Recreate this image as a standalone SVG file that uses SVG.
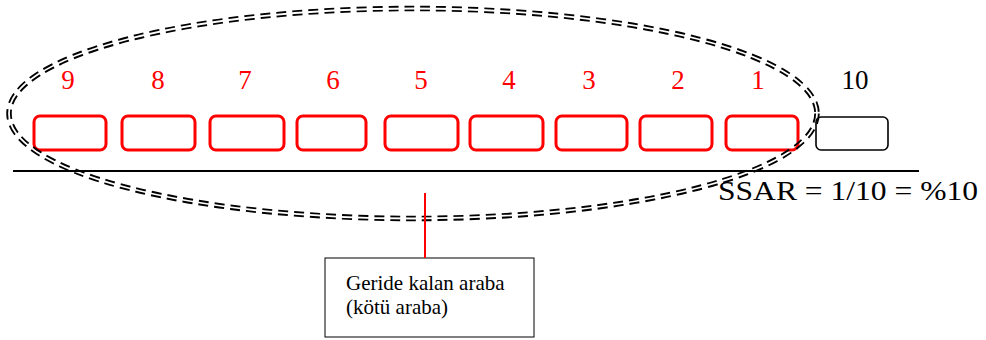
<svg xmlns="http://www.w3.org/2000/svg" width="986" height="340" viewBox="0 0 986 340">
  <style>
    .car { fill: none; stroke: #ff0000; stroke-width: 3; }
    .car-ok { fill: none; stroke: #000000; stroke-width: 1.6; }
    .num { font-family: "Liberation Serif", "Times New Roman", serif; font-size: 27px; text-anchor: middle; fill: #ff0000; }
    .num-ok { fill: #000000; }
    .lbl { font-family: "Liberation Serif", "Times New Roman", serif; font-size: 21px; fill: #000000; }
  </style>
  <defs>
    <!-- hollow centre that turns the thick dashed stroke into a double line -->
    <mask id="double-line" maskUnits="userSpaceOnUse" x="0" y="0" width="986" height="340">
      <rect x="0" y="0" width="986" height="340" fill="#ffffff"/>
      <ellipse cx="413" cy="113.5" rx="404" ry="105" fill="none" stroke="#000000" stroke-width="1.8"/>
    </mask>
  </defs>

  <rect x="0" y="0" width="986" height="340" fill="#ffffff"/>

  <!-- road line -->
  <line x1="13" y1="171" x2="919" y2="171" stroke="#000000" stroke-width="2"/>

  <!-- cars in the queue -->
  <g id="car-9"><rect class="car" x="34" y="116" width="72" height="34" rx="6"/><text class="num" x="68" y="89">9</text></g>
  <g id="car-8"><rect class="car" x="122" y="116" width="73" height="34" rx="6"/><text class="num" x="158" y="89">8</text></g>
  <g id="car-7"><rect class="car" x="210" y="116" width="74" height="34" rx="6"/><text class="num" x="245" y="89">7</text></g>
  <g id="car-6"><rect class="car" x="297" y="116" width="69" height="34" rx="6"/><text class="num" x="333" y="89">6</text></g>
  <g id="car-5"><rect class="car" x="385" y="116" width="73" height="34" rx="6"/><text class="num" x="421" y="89">5</text></g>
  <g id="car-4"><rect class="car" x="470" y="116" width="73" height="34" rx="6"/><text class="num" x="509" y="89">4</text></g>
  <g id="car-3"><rect class="car" x="556" y="116" width="71" height="34" rx="6"/><text class="num" x="589" y="89">3</text></g>
  <g id="car-2"><rect class="car" x="640" y="116" width="72" height="34" rx="6"/><text class="num" x="678" y="89">2</text></g>
  <g id="car-1"><rect class="car" x="726" y="116" width="72" height="34" rx="6"/><text class="num" x="758" y="89">1</text></g>
  <g id="car-10"><rect class="car-ok" x="816" y="117" width="72" height="33" rx="5"/><text class="num num-ok" x="855" y="89">10</text></g>

  <!-- grouping of the cars left behind -->
  <g id="group-ellipse">
    <ellipse cx="413" cy="113.5" rx="404" ry="105" fill="none" stroke="#000000" stroke-width="5.5" stroke-dasharray="10 6" mask="url(#double-line)"/>
  </g>

  <!-- ratio -->
  <g id="ratio">
    <text class="lbl" x="718" y="200" style="font-size:27px" textLength="260" lengthAdjust="spacingAndGlyphs">SSAR = 1/10 = %10</text>
  </g>

  <!-- callout box -->
  <g id="callout">
    <rect x="325" y="258" width="209" height="79" fill="#ffffff" stroke="#000000" stroke-width="1"/>
    <text class="lbl" x="346" y="290">Geride kalan araba</text>
    <text class="lbl" x="346" y="314">(kötü araba)</text>
  </g>

  <g id="connectors">
    <line x1="425" y1="193" x2="425" y2="258" stroke="#ff0000" stroke-width="2"/>
  </g>
</svg>
